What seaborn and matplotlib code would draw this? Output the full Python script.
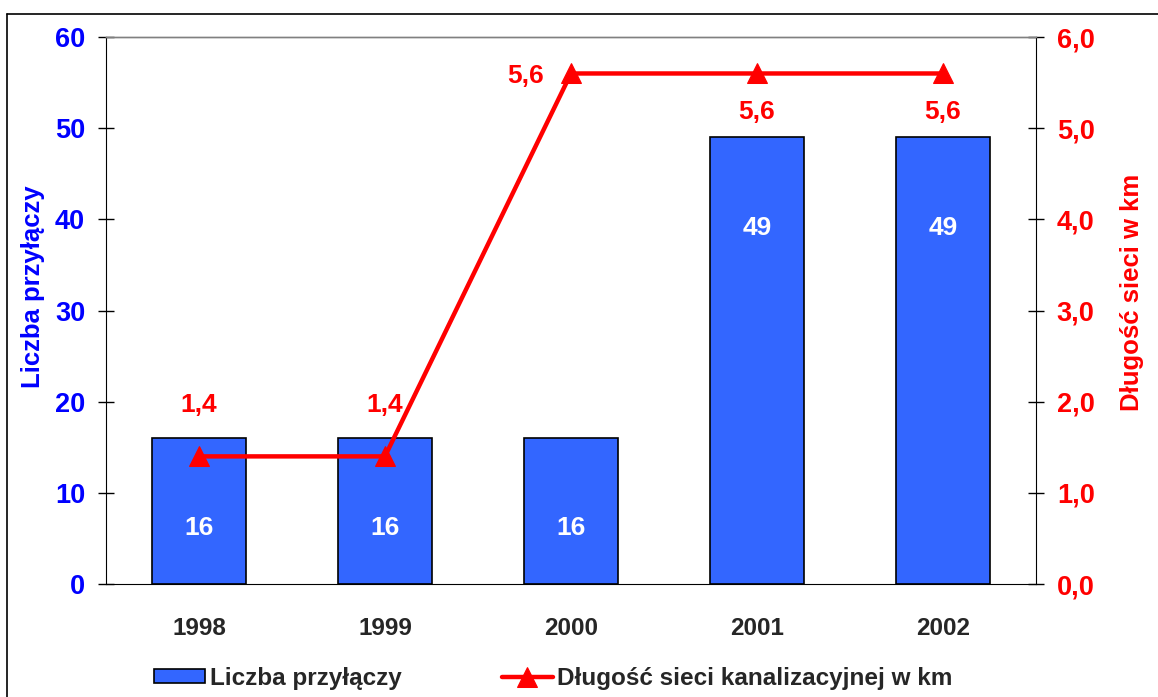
import numpy as np
import pandas as pd
import matplotlib
matplotlib.use("Agg")
import matplotlib.pyplot as plt
from matplotlib.lines import Line2D
import seaborn as sns

# %% Data
years = ["1998", "1999", "2000", "2001", "2002"]
connections = [16, 16, 16, 49, 49]          # Liczba przyłączy
network_km = [1.4, 1.4, 5.6, 5.6, 5.6]      # Długość sieci kanalizacyjnej w km

bar_label = "Liczba przyłączy"
line_label = "Długość sieci kanalizacyjnej w km"

# offsets (points) for the red value labels, like the original layout
line_lbl_offsets = [(0, 37), (0, 37), (-33, -2), (0, -28), (0, -28)]

bar_col = "#3366FF"
line_col = "#FF0000"
left_col = "#0000FF"

# %% Style
sns.set_style("white")
plt.rcParams["font.family"] = ["Liberation Sans", "DejaVu Sans"]
plt.rcParams["font.weight"] = "bold"

fig = plt.figure(figsize=(11.58, 6.97), dpi=100)
ax = fig.add_axes([0.0915, 0.1621, 0.8031, 0.7848])

df = pd.DataFrame({"year": years, "count": connections, "km": network_km})

# Bars
sns.barplot(x="year", y="count", data=df, ax=ax, color=bar_col, saturation=1,
            width=0.505, edgecolor="black", linewidth=1.2, label=bar_label)
ax.set_ylim(0, 60)
ax.set_xlim(-0.5, len(years) - 0.5)
ax.set_yticks(np.arange(0, 61, 10))

# white labels inside the bars
for i, v in enumerate(connections):
    ax.annotate(str(v), (i, v), xytext=(0, -65), textcoords="offset points",
                ha="center", va="center", color="white", fontsize=19, fontweight="bold")

# Line on secondary axis
ax2 = ax.twinx()
x_pos = np.arange(len(years))
sns.lineplot(x=x_pos, y=network_km, ax=ax2, color=line_col, linewidth=3.2,
             marker="^", markersize=15, markeredgecolor=line_col, label=line_label)
ax2.set_ylim(0, 6)
ax2.set_yticks(np.arange(0, 6.1, 1))
ax2.set_yticklabels([f"{t:.1f}".replace(".", ",") for t in np.arange(0, 6.1, 1)])

for i, v in enumerate(network_km):
    dx, dy = line_lbl_offsets[i]
    ax2.annotate(f"{v:.1f}".replace(".", ","), (i, v), xytext=(dx, dy),
                 textcoords="offset points", ha="center", va="center",
                 color=line_col, fontsize=19, fontweight="bold")

# %% Axes cosmetics
ax.set_xlabel("")
ax.set_ylabel(bar_label, color=left_col, fontsize=18.5, fontweight="bold")
ax.yaxis.set_label_coords(-0.066, 0.543)
ax2.set_ylabel("Długość sieci w km", color=line_col, fontsize=18.5, fontweight="bold")
ax2.yaxis.set_label_coords(1.090, 0.534)

ax.tick_params(axis="y", colors="black", labelcolor=left_col, labelsize=19.5,
               direction="inout", length=12, width=1, pad=9)
ax2.tick_params(axis="y", colors="black", labelcolor=line_col, labelsize=19.5,
                direction="inout", length=12, width=1, pad=9)
for t in ax.get_yticklabels() + ax2.get_yticklabels():
    t.set_fontweight("bold")

# x ticks: labels at centres, tick marks between categories
ax.tick_params(axis="x", which="major", length=0, labelsize=17.5, pad=24)
ax.set_xticks(np.arange(-0.5, len(years), 1.0), minor=True)
ax.tick_params(axis="x", which="minor", direction="inout", length=12, width=1,
               color="black")
for t in ax.get_xticklabels():
    t.set_fontweight("bold")

for a in (ax, ax2):
    a.spines["top"].set_color("#808080")
    a.spines["top"].set_linewidth(1)
ax.spines["left"].set_color("black")
ax.spines["bottom"].set_color("black")
ax.spines["right"].set_visible(False)
ax2.spines["left"].set_visible(False)
ax2.spines["bottom"].set_visible(False)
ax2.spines["right"].set_color("black")

# %% Legend at the bottom
h1, l1 = ax.get_legend_handles_labels()
h2, l2 = ax2.get_legend_handles_labels()
if ax.get_legend():
    ax.get_legend().remove()
if ax2.get_legend():
    ax2.get_legend().remove()
fig.legend(h1 + h2, l1 + l2, loc="center", bbox_to_anchor=(0.478, 0.027), ncol=2,
           frameon=False, prop={"size": 17.5, "weight": "bold"},
           handlelength=2.1, handleheight=0.55, handletextpad=0.2, columnspacing=4.1)

# outer frame (only left and top edges are visible in the crop)
fig.add_artist(Line2D([7.5 / 1158, 7.5 / 1158], [0, 1 - 14 / 697],
                      transform=fig.transFigure, color="black", linewidth=1.2))
fig.add_artist(Line2D([7 / 1158, 1], [1 - 14 / 697, 1 - 14 / 697],
                      transform=fig.transFigure, color="black", linewidth=1.2))

plt.savefig("out.png", dpi=100)
